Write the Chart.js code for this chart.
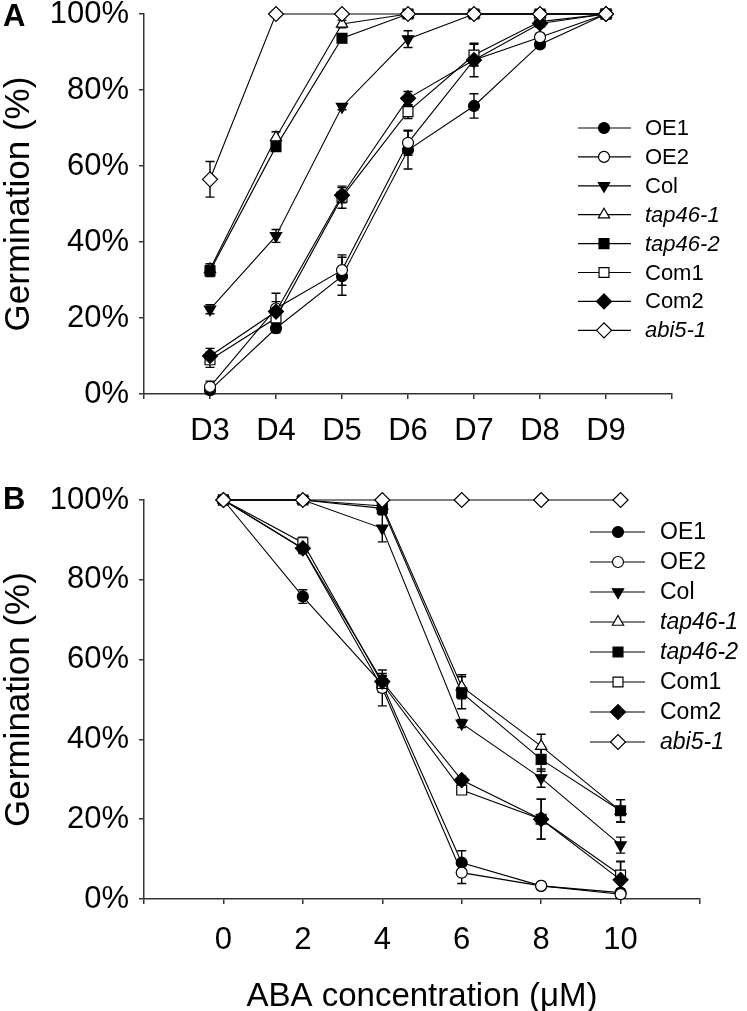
<!DOCTYPE html>
<html><head><meta charset="utf-8">
<script src="https://cdn.jsdelivr.net/npm/chart.js@4.4.1/dist/chart.umd.min.js"></script>
<style>
html,body{margin:0;padding:0;background:#fff;width:747px;height:1011px;overflow:hidden;}
#wrap{position:relative;width:747px;height:1011px;}
canvas{position:absolute;left:0;}
#cA{top:0;} #cB{top:462px;}
.pl{position:absolute;left:3px;font:bold 31px 'Liberation Sans',Arial,sans-serif;line-height:31px;color:#000;}
</style></head>
<body><div id="wrap">
<canvas id="cA" width="747" height="462"></canvas>
<canvas id="cB" width="747" height="549"></canvas>
<div class="pl" style="top:0px">A</div>
<div class="pl" style="top:483px">B</div>
</div>
<script>
// ---------- data ----------
const seriesNames = ['OE1', 'OE2', 'Col', 'tap46-1', 'tap46-2', 'Com1', 'Com2', 'abi5-1'];
const italicNames = ['tap46-1', 'tap46-2', 'abi5-1'];

// Panel A: germination over days
const days = [3, 4, 5, 6, 7, 8, 9];
const dayLabels = ['D3', 'D4', 'D5', 'D6', 'D7', 'D8', 'D9'];
const oe1A    = [1.0, 17.3, 31.0, 64.2, 75.8, 92.0, 100];
const oe2A    = [1.9, 22.5, 32.6, 66.1, 87.9, 93.9, 100];
const colA    = [22.3, 41.6, 75.6, 93.4, 100, 100, 100];
const tap1A   = [32.8, 67.5, 97.4, 100, 100, 100, 100];
const tap2A   = [32.4, 65.1, 93.6, 100, 100, 100, 100];
const com1A   = [9.0, 20.0, 51.8, 74.3, 89.2, 98.0, 100];
const com2A   = [10.0, 21.7, 52.3, 77.8, 87.9, 97.5, 100];
const abi5A   = [56.5, 100, 100, 100, 100, 100, 100];
const oe1AErr  = [1.0, 1.2, 5.0, 5.0, 3.2, 0.8, 0];
const oe2AErr  = [1.5, 4.0, 4.0, 3.3, 1.5, 1.0, 0];
const colAErr  = [1.2, 1.7, 0.8, 2.2, 0, 0, 0];
const tap1AErr = [1.5, 1.5, 1.0, 0, 0, 0, 0];
const tap2AErr = [1.5, 1.0, 1.0, 0, 0, 0, 0];
const com1AErr = [2.0, 3.0, 2.9, 1.8, 2.8, 1.0, 0];
const com2AErr = [2.0, 2.6, 2.0, 1.8, 4.4, 1.0, 0];
const abi5AErr = [4.7, 0, 0, 0, 0, 0, 0];

// Panel B: germination vs ABA concentration
const concentrations = [0, 2, 4, 6, 8, 10];
const concLabels = ['0', '2', '4', '6', '8', '10'];
const oe1B    = [100, 75.8, 53.8, 9.1, 3.3, 1.6];
const oe2B    = [100, 87.8, 52.9, 6.6, 3.3, 1.2];
const colB    = [100, 100, 92.9, 44.0, 30.3, 13.5];
const tap1B   = [100, 100, 98.5, 53.2, 38.3, 22.1];
const tap2B   = [100, 100, 97.9, 51.7, 35.0, 22.1];
const com1B   = [100, 89.3, 54.0, 27.3, 20.0, 6.0];
const com2B   = [100, 87.9, 54.5, 29.8, 20.0, 4.8];
const abi5B   = [100, 100, 100, 100, 100, 100];
const oe1BErr  = [0, 1.7, 2.0, 3.0, 0.5, 1.0];
const oe2BErr  = [0, 1.2, 4.5, 2.7, 0.5, 1.0];
const colBErr  = [0, 0, 3.4, 1.0, 2.3, 2.0];
const tap1BErr = [0, 0, 0.5, 3.0, 3.0, 2.8];
const tap2BErr = [0, 0, 1.0, 4.0, 3.0, 2.8];
const com1BErr = [0, 1.4, 2.0, 1.0, 5.0, 3.5];
const com2BErr = [0, 1.0, 2.0, 1.0, 5.0, 4.5];
const abi5BErr = [0, 0, 0, 0, 0, 0];

const yTickValues = [0, 20, 40, 60, 80, 100];

// ---------- styles ----------
const markerStyles = [
  {pointStyle: 'circle',   fill: '#000', rotation: 0,   radius: 5.5},
  {pointStyle: 'circle',   fill: '#fff', rotation: 0,   radius: 5.5},
  {pointStyle: 'triangle', fill: '#000', rotation: 180, radius: 6.5},
  {pointStyle: 'triangle', fill: '#fff', rotation: 0,   radius: 6.5},
  {pointStyle: 'rect',     fill: '#000', rotation: 0,   radius: 7},
  {pointStyle: 'rect',     fill: '#fff', rotation: 0,   radius: 7},
  {pointStyle: 'rectRot',  fill: '#000', rotation: 0,   radius: 7.5},
  {pointStyle: 'rectRot',  fill: '#fff', rotation: 0,   radius: 7.5}
];
const FONT = "'Liberation Sans', Arial, sans-serif";
Chart.defaults.color = '#000';
Chart.defaults.font.family = FONT;

function buildDatasets(xs, valueSets, errSets) {
  return valueSets.map((vals, i) => {
    const st = markerStyles[i];
    return {
      label: seriesNames[i],
      data: xs.map((x, j) => ({x: x, y: vals[j]})),
      errors: errSets[i],
      borderColor: '#000',
      borderWidth: 1.1,
      pointStyle: st.pointStyle,
      pointRotation: st.rotation,
      pointRadius: st.radius,
      pointBackgroundColor: st.fill,
      pointBorderColor: '#000',
      pointBorderWidth: 1.2,
      tension: 0,
      clip: false,
      order: seriesNames.length - i
    };
  });
}

const errorBarPlugin = {
  id: 'errorBars',
  beforeDatasetsDraw(chart, args, o) {
    const ctx = chart.ctx, xs = chart.scales.x, ys = chart.scales.y;
    ctx.save();
    ctx.strokeStyle = '#000';
    ctx.lineWidth = o.width;
    chart.data.datasets.forEach(ds => {
      ds.data.forEach((p, j) => {
        const e = ds.errors[j];
        if (!e) return;
        const x = xs.getPixelForValue(p.x);
        const yt = ys.getPixelForValue(p.y + e);
        const yb = ys.getPixelForValue(p.y - e);
        ctx.beginPath();
        ctx.moveTo(x, yt); ctx.lineTo(x, yb);
        ctx.moveTo(x - o.cap, yt); ctx.lineTo(x + o.cap, yt);
        ctx.moveTo(x - o.cap, yb); ctx.lineTo(x + o.cap, yb);
        ctx.stroke();
      });
    });
    ctx.restore();
  }
};

const legendPlugin = {
  id: 'seriesLegend',
  afterDraw(chart, args, o) {
    const ctx = chart.ctx;
    ctx.save();
    chart.data.datasets.forEach((ds, i) => {
      const y = o.y0 + i * o.dy;
      ctx.strokeStyle = '#000';
      ctx.lineWidth = 1.2;
      ctx.beginPath(); ctx.moveTo(o.x0, y); ctx.lineTo(o.x1, y); ctx.stroke();
      ctx.fillStyle = ds.pointBackgroundColor;
      ctx.strokeStyle = '#000';
      Chart.helpers.drawPoint(ctx, {
        pointStyle: ds.pointStyle, rotation: ds.pointRotation,
        radius: ds.pointRadius, borderWidth: 1.2
      }, o.xm, y);
      ctx.fillStyle = '#000';
      ctx.font = (italicNames.includes(ds.label) ? 'italic ' : '') + o.size + 'px ' + FONT;
      ctx.textAlign = 'left';
      ctx.textBaseline = 'middle';
      ctx.fillText(ds.label, o.xt, y + 1);
    });
    ctx.restore();
  }
};

function yScale(titleText) {
  return {
    type: 'linear', min: 0, max: 100,
    afterBuildTicks: s => { s.ticks = yTickValues.map(v => ({value: v})); },
    ticks: {callback: v => v + '%', font: {size: 31}, padding: 10, color: '#000'},
    grid: {drawOnChartArea: false, drawTicks: true, tickLength: 5, color: '#333', lineWidth: 1.5},
    border: {display: true, color: '#333', width: 1.5},
    title: {display: true, text: titleText, font: {size: 35, lineHeight: 1}, padding: {top: 2, bottom: 0}, color: '#000'},
    afterFit: s => { s.width = 144; s.paddingTop = 0; s.paddingBottom = 0; }
  };
}

// ---------- Chart A ----------
new Chart(document.getElementById('cA'), {
  type: 'line',
  data: {datasets: buildDatasets(days,
    [oe1A, oe2A, colA, tap1A, tap2A, com1A, com2A, abi5A],
    [oe1AErr, oe2AErr, colAErr, tap1AErr, tap2AErr, com1AErr, com2AErr, abi5AErr])},
  options: {
    responsive: false, animation: false,
    layout: {padding: {top: 14, right: 75, left: 0, bottom: 0}},
    scales: {
      x: {
        type: 'linear', min: 2, max: 10,
        ticks: {stepSize: 1, font: {size: 31}, padding: 14, color: '#000',
          callback: v => { const k = days.indexOf(v); return k >= 0 ? dayLabels[k] : ''; }},
        grid: {drawOnChartArea: false, drawTicks: true, tickLength: 5, color: '#333', lineWidth: 1.5},
        border: {display: true, color: '#333', width: 1.5},
        afterFit: s => { s.height = 68; s.paddingLeft = 0; s.paddingRight = 0; }
      },
      y: yScale('Germination (%)')
    },
    plugins: {
      legend: {display: false}, tooltip: {enabled: false},
      errorBars: {width: 1.4, cap: 4.5},
      seriesLegend: {x0: 578, x1: 631, xm: 604, xt: 645, y0: 128, dy: 28.9, size: 22}
    }
  },
  plugins: [errorBarPlugin, legendPlugin]
});

// ---------- Chart B ----------
new Chart(document.getElementById('cB'), {
  type: 'line',
  data: {datasets: buildDatasets(concentrations,
    [oe1B, oe2B, colB, tap1B, tap2B, com1B, com2B, abi5B],
    [oe1BErr, oe2BErr, colBErr, tap1BErr, tap2BErr, com1BErr, com2BErr, abi5BErr])},
  options: {
    responsive: false, animation: false,
    layout: {padding: {top: 38, right: 47, left: 0, bottom: 0}},
    scales: {
      x: {
        type: 'linear', min: -2, max: 12,
        ticks: {stepSize: 2, font: {size: 31}, padding: 18, color: '#000',
          callback: v => { const k = concentrations.indexOf(v); return k >= 0 ? concLabels[k] : ''; }},
        grid: {drawOnChartArea: false, drawTicks: true, tickLength: 5, color: '#333', lineWidth: 1.5},
        border: {display: true, color: '#333', width: 1.5},
        title: {display: true, text: 'ABA concentration (\u03BCM)', font: {size: 33, lineHeight: 0.85}, padding: {top: 0, bottom: 0}, color: '#000'},
        afterFit: s => { s.height = 112; s.paddingLeft = 0; s.paddingRight = 0; }
      },
      y: yScale('Germination (%)')
    },
    plugins: {
      legend: {display: false}, tooltip: {enabled: false},
      errorBars: {width: 1.4, cap: 4.5},
      seriesLegend: {x0: 590, x1: 645, xm: 618, xt: 660, y0: 70, dy: 30, size: 23}
    }
  },
  plugins: [errorBarPlugin, legendPlugin]
});
</script>
</body></html>
